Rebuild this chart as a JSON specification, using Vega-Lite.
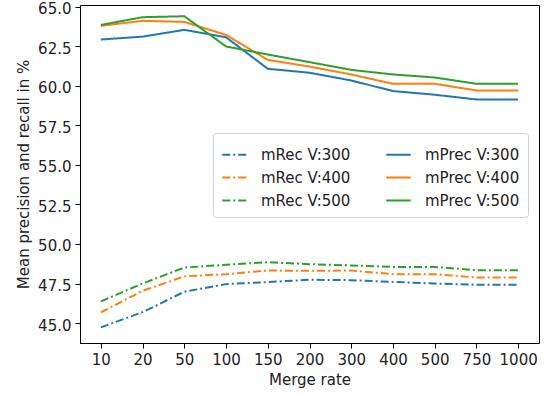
{
  "$schema": "https://vega.github.io/schema/vega-lite/v6.json",
  "width": 459,
  "height": 338,
  "autosize": "none",
  "padding": {"left": 80, "top": 5, "right": 10, "bottom": 53},
  "background": "white",
  "config": {
    "font": "DejaVu Sans",
    "view": {"stroke": "black", "strokeWidth": 1},
    "axis": {"grid": false, "domainColor": "black", "tickColor": "black", "labelColor": "#222222", "titleColor": "#222222", "labelFontSize": 15, "titleFontSize": 15, "titleFontWeight": "normal", "tickSize": 5, "labelPadding": 4}
  },
  "data": {"values": [
    {"rate": 10, "series": "mRec V:300", "value": 44.73},
    {"rate": 20, "series": "mRec V:300", "value": 45.69},
    {"rate": 50, "series": "mRec V:300", "value": 46.98},
    {"rate": 100, "series": "mRec V:300", "value": 47.46},
    {"rate": 150, "series": "mRec V:300", "value": 47.59},
    {"rate": 200, "series": "mRec V:300", "value": 47.74},
    {"rate": 300, "series": "mRec V:300", "value": 47.71},
    {"rate": 400, "series": "mRec V:300", "value": 47.6},
    {"rate": 500, "series": "mRec V:300", "value": 47.5},
    {"rate": 750, "series": "mRec V:300", "value": 47.42},
    {"rate": 1000, "series": "mRec V:300", "value": 47.42},
    {"rate": 10, "series": "mRec V:400", "value": 45.67},
    {"rate": 20, "series": "mRec V:400", "value": 47.04},
    {"rate": 50, "series": "mRec V:400", "value": 47.95},
    {"rate": 100, "series": "mRec V:400", "value": 48.09},
    {"rate": 150, "series": "mRec V:400", "value": 48.32},
    {"rate": 200, "series": "mRec V:400", "value": 48.3},
    {"rate": 300, "series": "mRec V:400", "value": 48.32},
    {"rate": 400, "series": "mRec V:400", "value": 48.09},
    {"rate": 500, "series": "mRec V:400", "value": 48.09},
    {"rate": 750, "series": "mRec V:400", "value": 47.88},
    {"rate": 1000, "series": "mRec V:400", "value": 47.88},
    {"rate": 10, "series": "mRec V:500", "value": 46.37},
    {"rate": 20, "series": "mRec V:500", "value": 47.5},
    {"rate": 50, "series": "mRec V:500", "value": 48.51},
    {"rate": 100, "series": "mRec V:500", "value": 48.68},
    {"rate": 150, "series": "mRec V:500", "value": 48.85},
    {"rate": 200, "series": "mRec V:500", "value": 48.72},
    {"rate": 300, "series": "mRec V:500", "value": 48.64},
    {"rate": 400, "series": "mRec V:500", "value": 48.55},
    {"rate": 500, "series": "mRec V:500", "value": 48.55},
    {"rate": 750, "series": "mRec V:500", "value": 48.34},
    {"rate": 1000, "series": "mRec V:500", "value": 48.34},
    {"rate": 10, "series": "mPrec V:300", "value": 62.92},
    {"rate": 20, "series": "mPrec V:300", "value": 63.1},
    {"rate": 50, "series": "mPrec V:300", "value": 63.53},
    {"rate": 100, "series": "mPrec V:300", "value": 63.06},
    {"rate": 150, "series": "mPrec V:300", "value": 61.07},
    {"rate": 200, "series": "mPrec V:300", "value": 60.82},
    {"rate": 300, "series": "mPrec V:300", "value": 60.33},
    {"rate": 400, "series": "mPrec V:300", "value": 59.66},
    {"rate": 500, "series": "mPrec V:300", "value": 59.43},
    {"rate": 750, "series": "mPrec V:300", "value": 59.13},
    {"rate": 1000, "series": "mPrec V:300", "value": 59.13},
    {"rate": 10, "series": "mPrec V:400", "value": 63.78},
    {"rate": 20, "series": "mPrec V:400", "value": 64.1},
    {"rate": 50, "series": "mPrec V:400", "value": 64.03},
    {"rate": 100, "series": "mPrec V:400", "value": 63.21},
    {"rate": 150, "series": "mPrec V:400", "value": 61.63},
    {"rate": 200, "series": "mPrec V:400", "value": 61.21},
    {"rate": 300, "series": "mPrec V:400", "value": 60.71},
    {"rate": 400, "series": "mPrec V:400", "value": 60.12},
    {"rate": 500, "series": "mPrec V:400", "value": 60.12},
    {"rate": 750, "series": "mPrec V:400", "value": 59.7},
    {"rate": 1000, "series": "mPrec V:400", "value": 59.7},
    {"rate": 10, "series": "mPrec V:500", "value": 63.84},
    {"rate": 20, "series": "mPrec V:500", "value": 64.33},
    {"rate": 50, "series": "mPrec V:500", "value": 64.39},
    {"rate": 100, "series": "mPrec V:500", "value": 62.48},
    {"rate": 150, "series": "mPrec V:500", "value": 61.97},
    {"rate": 200, "series": "mPrec V:500", "value": 61.49},
    {"rate": 300, "series": "mPrec V:500", "value": 61.0},
    {"rate": 400, "series": "mPrec V:500", "value": 60.71},
    {"rate": 500, "series": "mPrec V:500", "value": 60.52},
    {"rate": 750, "series": "mPrec V:500", "value": 60.12},
    {"rate": 1000, "series": "mPrec V:500", "value": 60.12}
  ]},
  "mark": {"type": "line", "strokeWidth": 2},
  "encoding": {
    "x": {"field": "rate", "type": "ordinal", "scale": {"type": "point", "padding": 0.5}, "axis": {"title": "Merge rate", "labelAngle": 0, "titlePadding": 5}},
    "y": {"field": "value", "type": "quantitative", "scale": {"domain": [43.74, 65.1], "nice": false, "zero": false}, "axis": {"title": "Mean precision and recall in %", "values": [45, 47.5, 50, 52.5, 55, 57.5, 60, 62.5, 65], "format": ".1f", "titlePadding": 6, "labelOffset": 2}},
    "color": {"field": "series", "type": "nominal",
      "scale": {"domain": ["mRec V:300", "mRec V:400", "mRec V:500", "mPrec V:300", "mPrec V:400", "mPrec V:500"], "range": ["#1f77b4", "#ff7f0e", "#2ca02c", "#1f77b4", "#ff7f0e", "#2ca02c"]},
      "legend": {"title": null, "orient": "none", "legendX": 133, "legendY": 128, "columns": 2, "columnPadding": 31, "rowPadding": 1, "labelFontSize": 15, "labelColor": "#222222", "symbolType": "stroke", "symbolSize": 600, "symbolStrokeWidth": 2, "padding": 8, "strokeColor": "#d0d0d0", "fillColor": "white", "cornerRadius": 3, "labelOffset": 13}},
    "strokeDash": {"field": "series", "type": "nominal",
      "scale": {"domain": ["mRec V:300", "mRec V:400", "mRec V:500", "mPrec V:300", "mPrec V:400", "mPrec V:500"], "range": [[8, 3, 2, 3], [8, 3, 2, 3], [8, 3, 2, 3], [1, 0], [1, 0], [1, 0]]},
      "legend": {"title": null, "orient": "none", "legendX": 133, "legendY": 128, "columns": 2, "columnPadding": 31, "rowPadding": 1, "labelFontSize": 15, "labelColor": "#222222", "symbolType": "stroke", "symbolSize": 600, "symbolStrokeWidth": 2, "padding": 8, "strokeColor": "#d0d0d0", "fillColor": "white", "cornerRadius": 3, "labelOffset": 13}}
  }
}
